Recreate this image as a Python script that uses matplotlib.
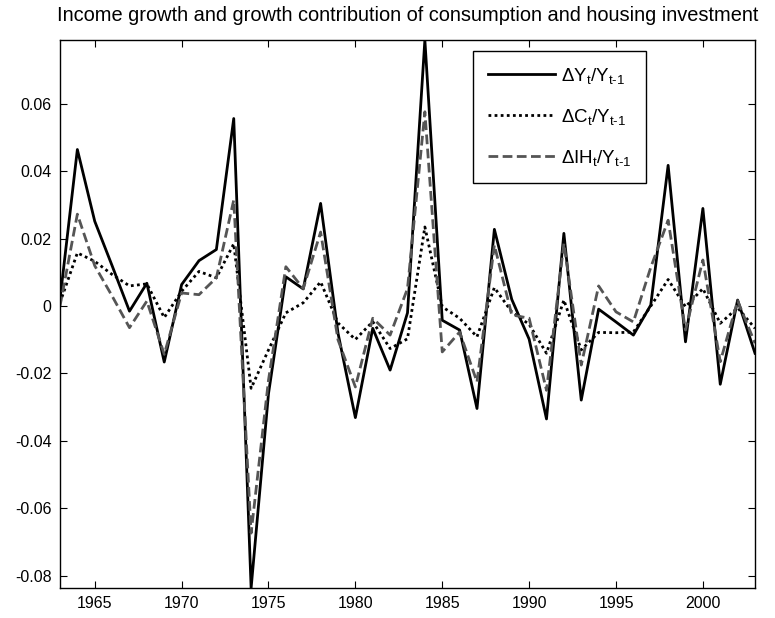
import numpy as np
import matplotlib
matplotlib.use("Agg")
import matplotlib.pyplot as plt

plt.rcParams["font.family"] = ["Liberation Sans", "DejaVu Sans"]
plt.rcParams["mathtext.fontset"] = "custom"
plt.rcParams["mathtext.rm"] = "Liberation Sans"
plt.rcParams["mathtext.it"] = "Liberation Sans"
plt.rcParams["axes.unicode_minus"] = False

# years 1963..2003
years = np.arange(1963, 2004)

# income growth dY/Y(t-1)
dY = [0.002, 0.0465, 0.0252, 0.012, -0.0015, 0.0068, -0.0166, 0.0064, 0.0135, 0.0168,
      0.0557, -0.0837, -0.026, 0.0087, 0.0051, 0.0305, -0.008, -0.0331, -0.0066, -0.019,
      -0.002, 0.079, -0.0042, -0.0071, -0.0304, 0.0228, 0.002, -0.0098, -0.0335, 0.0216,
      -0.0279, -0.0009, -0.0047, -0.0086, 0.0003, 0.0418, -0.0106, 0.029, -0.0232, 0.0018,
      -0.014]

# consumption contribution dC/Y(t-1)
dC = [0.001, 0.0158, 0.0133, 0.0094, 0.006, 0.0066, -0.0034, 0.0044, 0.0103, 0.0084,
      0.0185, -0.0244, -0.013, -0.002, 0.001, 0.0072, -0.005, -0.0099, -0.0046, -0.0126,
      -0.0097, 0.0235, -0.0002, -0.0036, -0.0091, 0.0055, -0.0017, -0.0054, -0.014, 0.0018,
      -0.013, -0.0078, -0.0079, -0.0077, 0.0, 0.0079, -0.0002, 0.0052, -0.0051, -0.0005,
      -0.0066]

# housing investment contribution dIH/Y(t-1)
dIH = [0.0, 0.0273, 0.012, 0.003, -0.0064, 0.0015, -0.0143, 0.0039, 0.0034, 0.0084,
       0.0315, -0.0674, -0.022, 0.0117, 0.0052, 0.022, -0.01, -0.024, -0.0036, -0.0086,
       0.0052, 0.0577, -0.0136, -0.0077, -0.0225, 0.0181, -0.0026, -0.0036, -0.025, 0.0186,
       -0.0175, 0.006, -0.0017, -0.0047, 0.0115, 0.0255, -0.0071, 0.0137, -0.0165, 0.0016,
       -0.011]

labels = [r"$\Delta\mathrm{Y}_{\mathrm{t}}/\mathrm{Y}_{\text{t-1}}$",
          r"$\Delta\mathrm{C}_{\mathrm{t}}/\mathrm{Y}_{\text{t-1}}$",
          r"$\Delta\mathrm{IH}_{\mathrm{t}}/\mathrm{Y}_{\text{t-1}}$"]

fig = plt.figure(figsize=(7.75, 6.18), dpi=100)
ax = fig.add_axes([0.0774, 0.0485, 0.8968, 0.8867])

ax.plot(years, dY, color="black", lw=2.0, label=labels[0])
ax.plot(years, dC, color="black", lw=2.0, linestyle=(0, (1, 1.2)), label=labels[1])
ax.plot(years, dIH, color="#555555", lw=2.0, linestyle=(0, (3.5, 1.6)), label=labels[2])

ax.set_xlim(1963, 2003)
ax.set_ylim(min(dY), max(dY))
ax.set_xticks(np.arange(1965, 2001, 5))
ax.set_yticks(np.arange(-0.08, 0.061, 0.02))
ax.set_yticklabels(["-0.08", "-0.06", "-0.04", "-0.02", "0", "0.02", "0.04", "0.06"])
ax.tick_params(direction="in", top=True, right=True, length=5, width=0.8,
               labelsize=11.5, pad=6)
for s in ax.spines.values():
    s.set_linewidth(1.0)

ax.set_title("Income growth and growth contribution of consumption and housing investment",
             fontsize=14.4, pad=14)

leg = ax.legend(loc="upper left", bbox_to_anchor=(0.594, 0.98), borderaxespad=0,
                fontsize=13.5, handlelength=3.6, handletextpad=0.3, labelspacing=1.12,
                borderpad=0.8, fancybox=False, framealpha=1, edgecolor="black")
leg.get_frame().set_linewidth(1.0)

fig.savefig("out.png", dpi=100)
